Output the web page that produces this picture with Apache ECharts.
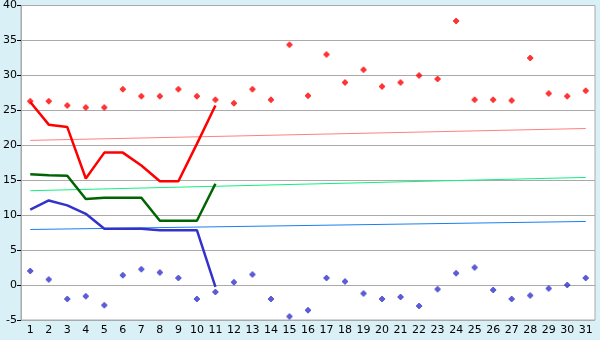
<!DOCTYPE html>
<html><head><meta charset="utf-8">
<script src="https://cdn.jsdelivr.net/npm/echarts@6/dist/echarts.min.js"></script>
<style>html,body{margin:0;padding:0;background:#d9f0f7;}#c{width:600px;height:340px;}</style>
</head><body><div id="c"></div>
<script>
var categories = ['1','2','3','4','5','6','7','8','9','10','11','12','13','14','15','16','17','18','19','20','21','22','23','24','25','26','27','28','29','30','31'];
var redPoints = [26.3,26.3,25.7,25.4,25.4,28,27,27,28,27,26.5,26,28,26.5,34.4,27.1,33,29,30.8,28.4,29,30,29.5,37.8,26.5,26.5,26.4,32.5,27.4,27,27.8];
var bluePoints = [2,0.8,-2,-1.6,-2.9,1.4,2.25,1.8,1,-2,-1,0.4,1.5,-2,-4.5,-3.6,1,0.5,-1.2,-2,-1.7,-3,-0.6,1.7,2.5,-0.7,-2,-1.5,-0.5,0,1];
var redLine = [26.2,22.95,22.6,15.25,18.95,18.95,17.1,14.85,14.85,20.2,25.7];
var greenLine = [15.85,15.7,15.65,12.3,12.5,12.5,12.5,9.2,9.2,9.2,14.5];
var blueLine = [10.8,12.1,11.4,10.2,8.05,8.05,8.05,7.85,7.85,7.85,-0.25];
var pinkTrend = [20.7,22.4];
var greenTrend = [13.5,15.4];
var blueTrend = [7.95,9.1];
var yTicks = {min:-5,max:40,interval:5};

function trend(ends){
  var a = categories.map(function(){return null;});
  a[0]=ends[0]; a[a.length-1]=ends[1];
  return a;
}
var plus = 'path://M2,0H4V1H5V2H6V4H5V5H4V6H2V5H1V4H0V2H1V1H2Z';
var font = {fontFamily:'DejaVu Sans',fontSize:11,color:'#000'};
var chart = echarts.init(document.getElementById('c'),null,{renderer:'canvas'});
chart.setOption({
  animation:false,
  backgroundColor:'#d9f0f7',
  grid:{left:20,top:5,right:5,bottom:20,show:true,backgroundColor:'#fff',borderColor:'#aaa',borderWidth:1},
  xAxis:{type:'category',data:categories,boundaryGap:true,
    axisLine:{lineStyle:{color:'#aaa'}},
    axisTick:{alignWithLabel:true,length:4,lineStyle:{color:'#000'}},
    axisLabel:Object.assign({margin:5,interval:0},font),
    splitLine:{show:false}},
  yAxis:{type:'value',min:yTicks.min,max:yTicks.max,interval:yTicks.interval,
    axisLine:{show:true,lineStyle:{color:'#aaa'}},
    axisTick:{show:true,length:4,lineStyle:{color:'#000'}},
    axisLabel:Object.assign({margin:4},font),
    splitLine:{lineStyle:{color:'#aaa',width:1}}},
  series:[
    {type:'line',data:trend(pinkTrend),connectNulls:true,showSymbol:false,symbol:'none',lineStyle:{color:'#ff8080',width:1}},
    {type:'line',data:trend(greenTrend),connectNulls:true,showSymbol:false,symbol:'none',lineStyle:{color:'#10f080',width:1}},
    {type:'line',data:trend(blueTrend),connectNulls:true,showSymbol:false,symbol:'none',lineStyle:{color:'#1a80f0',width:1}},
    {type:'line',data:redLine,symbol:'none',lineStyle:{color:'#ff0000',width:2.5}},
    {type:'line',data:greenLine,symbol:'none',lineStyle:{color:'#006400',width:2.5}},
    {type:'line',data:blueLine,symbol:'none',lineStyle:{color:'#3333cc',width:2.5}},
    {type:'scatter',data:redPoints,symbol:plus,symbolSize:6,itemStyle:{color:'#ff0000'}},
    {type:'scatter',data:bluePoints,symbol:plus,symbolSize:6,itemStyle:{color:'#3333cc'}}
  ]
});
</script></body></html>
